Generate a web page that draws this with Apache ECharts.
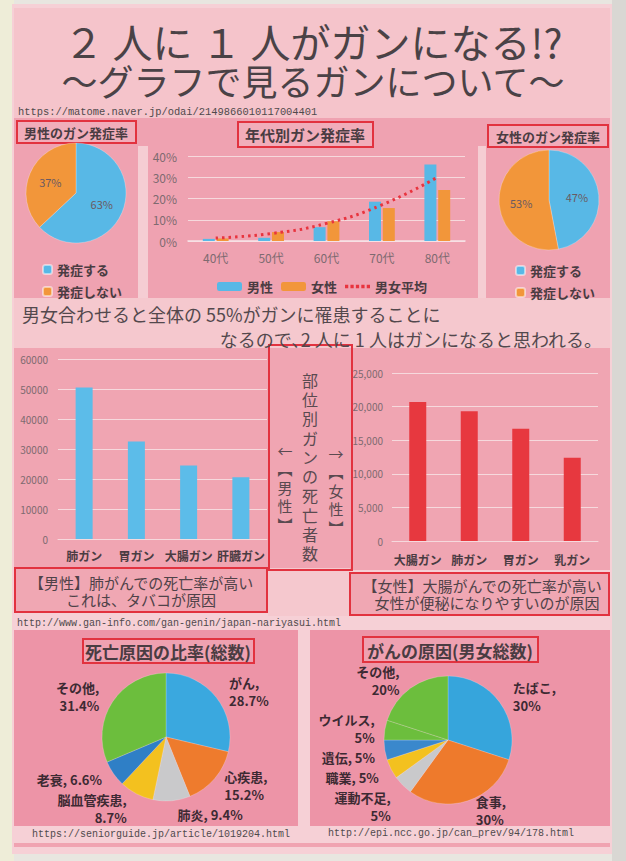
<!DOCTYPE html>
<html>
<head>
<meta charset="utf-8">
<script src="https://cdn.jsdelivr.net/npm/echarts@6/dist/echarts.min.js"></script>
<style>
  html, body { margin: 0; padding: 0; background: #e8e6e0; }
  #poster { width: 626px; height: 861px; }
</style>
</head>
<body>
<div id="poster"></div>
<script>
// 年代別ガン発症率 (%)
const ageCats = ['40代', '50代', '60代', '70代', '80代'];
const maleRate = [1, 1.5, 6.5, 18.5, 36];
const femaleRate = [1.2, 4.2, 9.3, 15.5, 24];
const avgRate = [1.4, 3.5, 8.3, 17, 30];

// 男性・女性のガン発症率
const pieNames = ['発症する', '発症しない'];
const malePie = [63, 37];
const femalePie = [47, 53];

// 部位別ガンの死亡者数
const maleSites = ['肺ガン', '胃ガン', '大腸ガン', '肝臓ガン'];
const maleDeaths = [50500, 32500, 24500, 20600];
const femaleSites = ['大腸ガン', '肺ガン', '胃ガン', '乳ガン'];
const femaleDeaths = [20700, 19300, 16700, 12400];

// 死亡原因の比率(総数)
const deathCauses = ['がん', '心疾患', '肺炎', '脳血管疾患', '老衰', 'その他'];
const deathShares = [28.7, 15.2, 9.4, 8.7, 6.6, 31.4];

// がんの原因(男女総数)
const cancerCauses = ['たばこ', '食事', '運動不足', '職業', '遺伝', 'ウイルス', 'その他'];
const cancerShares = [30, 30, 5, 5, 5, 5, 20];

// tick settings: [min, max, interval]
const rateTicks = [0, 40, 10];
const maleTicks = [0, 60000, 10000];
const femaleTicks = [0, 25000, 5000];

const FONT = '"Noto Sans CJK JP", "Noto Sans", sans-serif';
const MONO = '"Liberation Mono", "DejaVu Sans Mono", monospace';
const RED = '#e2323f';
const BLUE = '#58b8e6';
const ORANGE = '#f2963a';
const INK = '#4a3c42';
const AXIS = '#7e6a70';

const oneLine = ['肺炎', '老衰', '遺伝', '職業'];

function rect(x, y, w, h, fill, stroke) {
  return {
    type: 'rect', silent: true,
    shape: { x: x, y: y, width: w, height: h },
    style: stroke ? { fill: fill || 'none', stroke: stroke, lineWidth: 2 } : { fill: fill }
  };
}
function txt(x, y, s, size, opt) {
  opt = opt || {};
  return {
    type: 'text', silent: true, x: x, y: y,
    style: {
      text: s, fontSize: size, fontFamily: opt.font || FONT,
      fontWeight: opt.weight || 'normal', fill: opt.color || '#4d4448',
      align: opt.align || 'left', verticalAlign: opt.va || 'middle',
      lineHeight: opt.lh
    }
  };
}

const graphics = [
  rect(0, 0, 14, 861, '#eeedd8'),
  rect(612, 0, 14, 861, '#d9d7d3'),
  rect(12, 4, 600, 850, '#f6d0d6'),
  // header
  rect(14, 8, 596, 112, '#f5c4cb'),
  // top panels
  rect(14, 118, 596, 182, '#efa2b1'),
  rect(138, 146, 10, 152, '#f5cdd3'),
  rect(478, 146, 8, 152, '#f5cdd3'),
  // text band
  rect(14, 298, 596, 50, '#f5c8ce'),
  // middle panels
  rect(14, 348, 596, 222, '#f0a5b2'),
  rect(268, 568, 82, 48, '#f5c8ce'),
  rect(15, 568, 252, 44, '#f0a7b3'),
  rect(350, 573, 259, 42, '#f0a7b3'),
  // bottom panels
  rect(14, 630, 284, 196, '#ed94a7'),
  rect(310, 630, 300, 196, '#ed94a7'),
  rect(14, 843, 596, 4, '#f0a3b1'),
  // title boxes
  rect(17, 121, 119, 22, 'rgba(255,255,255,0.12)', RED),
  rect(238, 122, 135, 25, 'rgba(255,255,255,0.12)', RED),
  rect(488, 125, 120, 22, 'rgba(255,255,255,0.12)', RED),
  rect(83, 639, 171, 24, 'rgba(255,255,255,0.12)', RED),
  rect(363, 637, 175, 25, 'rgba(255,255,255,0.12)', RED),
  // middle boxes
  rect(269, 345, 83, 225, null, RED),
  rect(15, 568, 252, 44, null, RED),
  rect(350, 573, 259, 42, null, RED),

  txt(313, 41, '２ 人に １ 人がガンになる!?', 40, { align: 'center', color: '#4a4246' }),
  txt(313, 80, '～グラフで見るガンについて～', 36, { align: 'center', color: '#4a4246' }),
  txt(18, 112, 'https://matome.naver.jp/odai/2149866010117004401', 10.4, { font: MONO, color: '#4f4a4c' }),

  txt(76, 132, '男性のガン発症率', 13, { align: 'center', weight: 'bold', color: INK }),
  txt(305, 134, '年代別ガン発症率', 15, { align: 'center', weight: 'bold', color: INK }),
  txt(548, 136, '女性のガン発症率', 13, { align: 'center', weight: 'bold', color: INK }),

  txt(22, 314, '男女合わせると全体の 55%がガンに罹患することに', 18, { color: '#53484d' }),
  txt(602, 339, 'なるので､2 人に 1 人はガンになると思われる。', 18, { align: 'right', color: '#53484d' }),

  txt(310, 370, '部\n位\n別\nガ\nン\nの\n死\n亡\n者\n数', 16, { align: 'center', va: 'top', lh: 19.3, color: '#5a4a50' }),
  txt(285, 441, '←\n︻\n男\n性\n︼', 15, { align: 'center', va: 'top', lh: 18.5, color: '#5a4a50' }),
  txt(336, 444, '→\n︻\n女\n性\n︼', 15, { align: 'center', va: 'top', lh: 18.5, color: '#5a4a50' }),

  txt(141, 582, '【男性】肺がんでの死亡率が高い', 15, { align: 'center', color: '#4f4248' }),
  txt(141, 599, 'これは、タバコが原因', 15, { align: 'center', color: '#4f4248' }),
  txt(482, 585, '【女性】大腸がんでの死亡率が高い', 15, { align: 'center', color: '#4f4248' }),
  txt(487, 602, '女性が便秘になりやすいのが原因', 15, { align: 'center', color: '#4f4248' }),
  txt(17, 623, 'http://www.gan-info.com/gan-genin/japan-nariyasui.html', 10, { font: MONO, color: '#4f4a4c' }),

  txt(168, 651, '死亡原因の比率(総数)', 17, { align: 'center', weight: 'bold', color: INK }),
  txt(450, 650, 'がんの原因(男女総数)', 17, { align: 'center', weight: 'bold', color: INK }),
  txt(32, 834, 'https://seniorguide.jp/article/1019204.html', 10, { font: MONO, color: '#4f4a4c' }),
  txt(328, 833, 'http://epi.ncc.go.jp/can_prev/94/178.html', 10, { font: MONO, color: '#4f4a4c' })
];

function smallPie(center, values, name) {
  return {
    type: 'pie', name: name, center: center, radius: 50,
    silent: true, startAngle: 90,
    data: values.map((v, i) => ({ name: pieNames[i], value: v })),
    color: [BLUE, ORANGE],
    label: { position: 'inside', formatter: '{c}%', fontSize: 11, color: '#6a5a62', fontFamily: FONT },
    labelLine: { show: false },
    itemStyle: { borderColor: 'rgba(255,255,255,0.5)', borderWidth: 0.5 }
  };
}

function bigPie(center, names, values, colors) {
  return {
    type: 'pie', center: center, radius: 64, silent: true, startAngle: 90,
    data: values.map((v, i) => ({ name: names[i], value: v })),
    color: colors,
    label: {
      position: 'outside', fontSize: 13, fontWeight: 'bold', color: '#3d2a33',
      fontFamily: FONT, lineHeight: 18, align: 'center',
      formatter: p => oneLine.indexOf(p.name) >= 0 ? p.name + ', ' + p.value + '%' : p.name + ',\n' + p.value + '%'
    },
    labelLine: { show: false, length: 10, length2: 0 },
    itemStyle: { borderColor: 'rgba(255,255,255,0.4)', borderWidth: 0.5 }
  };
}

const axisLabel = { color: AXIS, fontFamily: FONT, fontSize: 11 };
const catLabel = { color: INK, fontFamily: FONT, fontSize: 12, fontWeight: 'bold', interval: 0 };
const split = { lineStyle: { color: '#f6d9dd', width: 1 } };
const dots = 'path://M0,0h3v3h-3z M5,0h3v3h-3z M10,0h3v3h-3z M15,0h3v3h-3z M20,0h3v3h-3z';

const option = {
  animation: false,
  textStyle: { fontFamily: FONT },
  graphic: graphics,
  grid: [
    { left: 188, top: 156, width: 277, height: 85 },
    { left: 58, top: 359, width: 209, height: 180 },
    { left: 392, top: 373, width: 206, height: 168 }
  ],
  xAxis: [
    { gridIndex: 0, type: 'category', data: ageCats, axisTick: { show: false },
      axisLine: { lineStyle: { color: '#f8e4e7', width: 1.5 } },
      axisLabel: Object.assign({}, axisLabel, { fontSize: 12, margin: 10, interval: 0 }) },
    { gridIndex: 1, type: 'category', data: maleSites, axisTick: { show: false },
      axisLine: { lineStyle: { color: '#f6d9dd' } }, axisLabel: Object.assign({}, catLabel, { margin: 10 }) },
    { gridIndex: 2, type: 'category', data: femaleSites, axisTick: { show: false },
      axisLine: { lineStyle: { color: '#f6d9dd' } }, axisLabel: Object.assign({}, catLabel, { margin: 12 }) }
  ],
  yAxis: [
    { gridIndex: 0, type: 'value', min: rateTicks[0], max: rateTicks[1], interval: rateTicks[2],
      axisLabel: Object.assign({}, axisLabel, { fontSize: 12, margin: 11, formatter: '{value}%' }), splitLine: split },
    { gridIndex: 1, type: 'value', min: maleTicks[0], max: maleTicks[1], interval: maleTicks[2],
      axisLabel: Object.assign({}, axisLabel, { fontSize: 10, margin: 10, formatter: v => String(v) }), splitLine: split },
    { gridIndex: 2, type: 'value', min: femaleTicks[0], max: femaleTicks[1], interval: femaleTicks[2],
      axisLabel: Object.assign({}, axisLabel, { fontSize: 10, margin: 9,
        formatter: v => v.toLocaleString('en-US') }), splitLine: split }
  ],
  legend: [
    { left: 37, top: 258, orient: 'vertical', itemWidth: 9, itemHeight: 9, itemGap: 9,
      data: pieNames, selectedMode: false,
      textStyle: { fontSize: 13, fontWeight: 'bold', color: INK, fontFamily: FONT } },
    { left: 510, top: 259, orient: 'vertical', itemWidth: 9, itemHeight: 9, itemGap: 9,
      data: pieNames, selectedMode: false,
      textStyle: { fontSize: 13, fontWeight: 'bold', color: INK, fontFamily: FONT } },
    { left: 212, top: 275, itemWidth: 25, itemHeight: 9, itemGap: 8,
      data: ['男性', '女性', { name: '男女平均', icon: dots, itemStyle: { color: '#e8343e' } }],
      selectedMode: false,
      textStyle: { fontSize: 13, fontWeight: 'bold', color: INK, fontFamily: FONT } }
  ],
  series: [
    smallPie([76, 193], malePie, '男性のガン発症率'),
    smallPie([549, 200], femalePie, '女性のガン発症率'),
    { type: 'bar', name: '男性', xAxisIndex: 0, yAxisIndex: 0, data: maleRate,
      barWidth: 12, barGap: '15%', itemStyle: { color: BLUE }, silent: true },
    { type: 'bar', name: '女性', xAxisIndex: 0, yAxisIndex: 0, data: femaleRate,
      barWidth: 12, itemStyle: { color: ORANGE }, silent: true },
    { type: 'line', name: '男女平均', xAxisIndex: 0, yAxisIndex: 0, data: avgRate,
      smooth: true, symbol: 'none', z: 5, silent: true,
      lineStyle: { color: '#e8343e', width: 3, type: [2.5, 4] },
      itemStyle: { color: '#e8343e' } },
    { type: 'bar', xAxisIndex: 1, yAxisIndex: 1, data: maleDeaths, barWidth: 17,
      itemStyle: { color: '#5cbce9' }, silent: true },
    { type: 'bar', xAxisIndex: 2, yAxisIndex: 2, data: femaleDeaths, barWidth: 17,
      itemStyle: { color: '#e7383f' }, silent: true },
    bigPie([166, 737], deathCauses, deathShares,
      ['#3aa8df', '#ee7b2d', '#c9c9cb', '#f3c11f', '#2f7fc6', '#6cbe3d']),
    bigPie([448, 740], cancerCauses, cancerShares,
      ['#36a5dc', '#ee7a2c', '#c9c9cb', '#f3c11f', '#3a88cc', '#6cbe3d', '#1f79c0'])
  ]
};

const chart = echarts.init(document.getElementById('poster'), null, { renderer: 'svg' });
chart.setOption(option);
</script>
</body>
</html>
